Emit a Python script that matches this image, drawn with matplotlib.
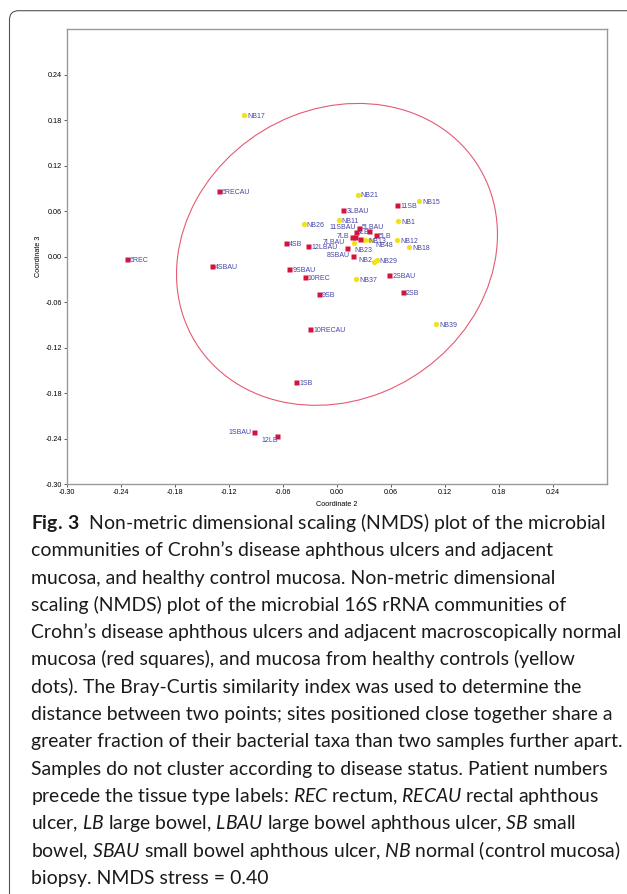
import matplotlib
matplotlib.use("Agg")
import matplotlib.pyplot as plt
from matplotlib.patches import Ellipse, FancyBboxPatch

# sample names and NMDS coordinates (Coordinate 2, Coordinate 3)
cd_names = ["6REC", "6RECAU", "4SBAU", "4SB", "12LBAU", "9SBAU", "10REC", "9SB",
            "10RECAU", "1SB", "1SBAU", "12LB", "3LBAU", "11SB", "11SBAU", "3LB",
            "5LBAU", "5LB", "7LB", "", "", "7LBAU", "8SBAU", "2SBAU", "2SB"]
cd_x = [-0.233, -0.131, -0.139, -0.057, -0.032, -0.053, -0.036, -0.020,
        -0.030, -0.045, -0.092, -0.067, 0.007, 0.067, 0.024, 0.021,
        0.036, 0.043, 0.017, 0.020, 0.026, 0.011, 0.018, 0.058, 0.073]
cd_y = [-0.003, 0.087, -0.012, 0.018, 0.014, -0.016, -0.027, -0.049,
        -0.095, -0.165, -0.232, -0.237, 0.062, 0.068, 0.038, 0.032,
        0.034, 0.028, 0.026, 0.026, 0.023, 0.012, 0.001, -0.024, -0.047]

nb_names = ["NB17", "NB21", "NB15", "NB11", "NB1", "NB26", "NB12", "NB18",
            "NB37", "NB39", "NB29", "NB2", "NB23", "NB13", "NB48"]
nb_x = [-0.103, 0.023, 0.091, 0.002, 0.068, -0.037, 0.067, 0.080,
        0.021, 0.110, 0.044, 0.041, 0.0185, 0.031, 0.037]
nb_y = [0.187, 0.082, 0.073, 0.0485, 0.047, 0.043, 0.022, 0.013,
        -0.030, -0.089, -0.004, -0.007, 0.0185, 0.0216, 0.0216]

# concentration ellipse: centre, full width/height, angle (deg)
ell_center = (0.0, 0.003)
ell_width = 0.409
ell_height = 0.344
ell_angle = 65.3

ticks = [-0.30, -0.24, -0.18, -0.12, -0.06, 0.00, 0.06, 0.12, 0.18, 0.24]
tick_labels = ["-0.30", "-0.24", "-0.18", "-0.12", "-0.06", "0.00", "0.06", "0.12", "0.18", "0.24"]

caption = [
    r"$\mathbf{Fig.\,3}$  Non-metric dimensional scaling (NMDS) plot of the microbial",
    "communities of Crohn\u2019s disease aphthous ulcers and adjacent",
    "mucosa, and healthy control mucosa. Non-metric dimensional",
    "scaling (NMDS) plot of the microbial 16S rRNA communities of",
    "Crohn\u2019s disease aphthous ulcers and adjacent macroscopically normal",
    "mucosa (red squares), and mucosa from healthy controls (yellow",
    "dots). The Bray-Curtis similarity index was used to determine the",
    "distance between two points; sites positioned close together share a",
    "greater fraction of their bacterial taxa than two samples further apart.",
    "Samples do not cluster according to disease status. Patient numbers",
    r"precede the tissue type labels: $\mathit{REC}$ rectum, $\mathit{RECAU}$ rectal aphthous",
    r"ulcer, $\mathit{LB}$ large bowel, $\mathit{LBAU}$ large bowel aphthous ulcer, $\mathit{SB}$ small",
    r"bowel, $\mathit{SBAU}$ small bowel aphthous ulcer, $\mathit{NB}$ normal (control mucosa)",
    "biopsy. NMDS stress = 0.40",
]

# label placement tweaks (offset points, alignment)
label_pos = {
    "1SBAU": (-2.2, -0.3, "right"),
    "12LB": (0.8, -3.1, "right"),
    "11SBAU": (-2.2, 0.4, "right"),
    "7LB": (-2.2, 0.0, "right"),
    "7LBAU": (-1.2, 3.6, "right"),
    "8SBAU": (-2.2, 0.0, "right"),
    "NB2": (-1.4, 1.2, "right"),
    "5LBAU": (2.4, 2.6, "center"),
    "3LB": (0.7, 0.0, "left"),
    "NB23": (0.5, -5.8, "left"),
    "NB48": (3.5, -4.0, "left"),
}

plt.rcParams["mathtext.fontset"] = "custom"
plt.rcParams["mathtext.rm"] = "Lato"
plt.rcParams["mathtext.it"] = "Lato:italic"
plt.rcParams["mathtext.bf"] = "Lato:bold"

W, H = 627, 894
fig = plt.figure(figsize=(W / 100, H / 100), dpi=100)

ax = fig.add_axes([66.7 / W, (H - 484) / H, 540.6 / W, 454.7 / H])
ax.set_xlim(-0.30, 0.30)
ax.set_ylim(-0.30, 0.30)

ax.add_patch(Ellipse(ell_center, ell_width, ell_height, angle=ell_angle,
                     fill=False, edgecolor="#e65a72", lw=0.8, zorder=2))

ax.plot(nb_x, nb_y, "o", color="#f0e21a", ms=3.8, mec="none", zorder=3)
ax.plot(cd_x, cd_y, "s", color="#d3143c", ms=3.6, mec="none", zorder=4)

lab_color = "#4444a8"
for names, xs, ys in [(cd_names, cd_x, cd_y), (nb_names, nb_x, nb_y)]:
    for n, x, y in zip(names, xs, ys):
        if not n:
            continue
        dx, dy, ha = label_pos.get(n, (2.2, -1.0, "left"))
        ax.annotate(n, (x, y), xytext=(dx, dy), textcoords="offset points",
                    ha=ha, va="center", fontsize=5.0, color=lab_color,
                    family="Liberation Sans", zorder=5)

ax.set_xticks(ticks)
ax.set_xticklabels(tick_labels)
ax.set_yticks(ticks)
ax.set_yticklabels(tick_labels)
ax.tick_params(direction="out", length=2.2, width=0.6, color="#444444",
               labelsize=5.2, pad=1.2, labelcolor="#000000")
for lab in ax.get_xticklabels() + ax.get_yticklabels():
    lab.set_family("Liberation Sans")
for sp in ax.spines.values():
    sp.set_color("#999999")
    sp.set_linewidth(1.0)

ax.set_xlabel("Coordinate 2", fontsize=5.2, family="Liberation Sans", va="center")
ax.set_ylabel("Coordinate 3", fontsize=5.2, family="Liberation Sans", va="center")
ax.xaxis.set_label_coords(0.5, -(505 - 484) / 454.7)
ax.yaxis.set_label_coords(-(66.7 - 39) / 540.6, 0.5)

# outer rounded frame (only the top and left edges fall inside the picture)
frame = FancyBboxPatch((9.5 / 100, -0.1), 7.0, (H - 10.7) / 100 + 0.1,
                       boxstyle="round,pad=0,rounding_size=0.09",
                       transform=fig.dpi_scale_trans, fill=False,
                       edgecolor="#555555", lw=0.8)
fig.patches.append(frame)

# caption, one text per line; size fitted to the widest line
texts = []
for i, line in enumerate(caption):
    t = fig.text(31 / W, 1 - (529 + 27.3 * i) / H, line, fontsize=13,
                 family="Lato", color="#1a1a1a", ha="left", va="baseline")
    texts.append(t)
renderer = fig.canvas.get_renderer()
width = texts[4].get_window_extent(renderer).width
scale = 589 / width
for t in texts:
    t.set_fontsize(13 * scale)

fig.savefig("out.png", dpi=100)
